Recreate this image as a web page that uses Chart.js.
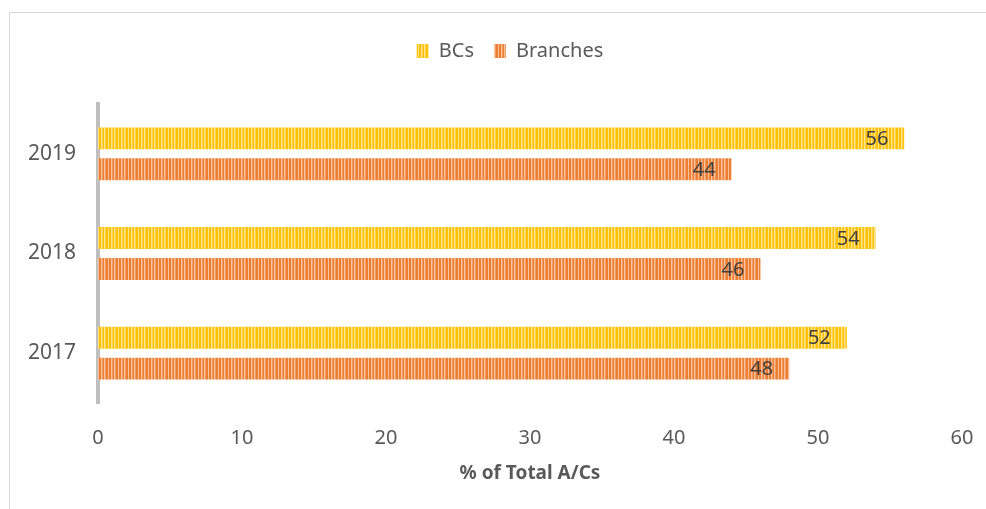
<!DOCTYPE html>
<html>
<head>
<meta charset="utf-8">
<script src="https://cdn.jsdelivr.net/npm/chart.js@4.4.1/dist/chart.umd.min.js"></script>
<style>
  html, body { margin: 0; padding: 0; background: #ffffff; }
  #wrap { width: 986px; height: 509px; position: relative; }
</style>
</head>
<body>
<div id="wrap"><canvas id="chart" width="986" height="509"></canvas></div>
<script>
// Share of total accounts by channel, per year
const years = ['2019', '2018', '2017'];
const bcShare = [56, 54, 52];
const branchShare = [44, 46, 48];
const seriesNames = ['BCs', 'Branches'];
const xTicks = [0, 10, 20, 30, 40, 50, 60];

const FONT = '"Noto Sans", "Open Sans", sans-serif';

// Vertical-stripe fill, like a light-vertical pattern
function stripes(base, light, mid) {
  const c = document.createElement('canvas');
  c.width = 10; c.height = 4;
  const g = c.getContext('2d');
  g.fillStyle = base; g.fillRect(0, 0, 10, 4);
  [[1, light], [2, mid], [4, light], [5, mid], [8, light]].forEach(([x, col]) => {
    g.fillStyle = col; g.fillRect(x, 0, 1, 4);
  });
  return g.createPattern(c, 'repeat');
}
const ctx0 = document.getElementById('chart').getContext('2d');
const yellowFill = stripes('#FFC000', '#FFE38A', '#FFD24D');
const orangeFill = stripes('#ED7D31', '#F7C29C', '#F19E66');

// Thin outer frame
const framePlugin = {
  id: 'frame',
  beforeDraw(chart) {
    const c = chart.ctx;
    c.save();
    c.strokeStyle = '#d9d9d9';
    c.lineWidth = 1;
    c.beginPath();
    c.moveTo(9.5, 509);
    c.lineTo(9.5, 12.5);
    c.lineTo(986, 12.5);
    c.stroke();
    c.restore();
  }
};

// Extra room under the legend, and the legend centred over the frame
const legendPlace = {
  id: 'legendPlace',
  beforeInit(chart) {
    const fit = chart.legend.fit;
    chart.legend.fit = function () {
      fit.call(this);
      this.height += 33;
    };
  },
  afterLayout(chart) {
    const lg = chart.legend;
    lg.left += 29;
    lg.right += 29;
  }
};

// Value labels just inside the end of each bar
const valueLabels = {
  id: 'valueLabels',
  afterDatasetsDraw(chart) {
    const c = chart.ctx;
    c.save();
    c.font = '20px ' + FONT;
    c.fillStyle = '#404040';
    c.textAlign = 'right';
    c.textBaseline = 'middle';
    chart.data.datasets.forEach((ds, i) => {
      chart.getDatasetMeta(i).data.forEach((bar, j) => {
        c.fillText(String(ds.data[j]), bar.x - 16, bar.y + 1);
      });
    });
    c.restore();
  }
};

new Chart(ctx0, {
  type: 'bar',
  data: {
    labels: years,
    datasets: [
      { label: seriesNames[0], data: bcShare, backgroundColor: yellowFill },
      { label: seriesNames[1], data: branchShare, backgroundColor: orangeFill }
    ]
  },
  options: {
    indexAxis: 'y',
    responsive: false,
    animation: false,
    devicePixelRatio: 1,
    categoryPercentage: 0.62,
    barPercentage: 0.71,
    layout: { padding: { top: 21, right: 24, bottom: 0, left: 0 } },
    plugins: {
      legend: {
        position: 'top',
        labels: {
          font: { family: FONT, size: 20 },
          color: '#595959',
          boxWidth: 12,
          boxHeight: 14,
          padding: 20
        }
      },
      tooltip: { enabled: false }
    },
    scales: {
      x: {
        min: 0,
        max: 60,
        afterBuildTicks(scale) { scale.ticks = xTicks.map(v => ({ value: v })); },
        afterFit(scale) {
          scale.height = 106;
          scale.paddingLeft = 0;
          scale.paddingRight = 0;
        },
        grid: { display: false, drawTicks: false },
        border: { display: false },
        ticks: {
          font: { family: FONT, size: 20 },
          color: '#595959',
          padding: 23
        },
        title: {
          display: true,
          text: '% of Total A/Cs',
          font: { family: FONT, size: 19, weight: 'bold' },
          color: '#595959',
          padding: { top: 0, bottom: 24 }
        }
      },
      y: {
        afterFit(scale) { scale.width = 98; },
        grid: { display: false, drawTicks: false },
        border: { display: true, color: '#bfbfbf', width: 4 },
        ticks: {
          font: { family: FONT, size: 21 },
          color: '#595959',
          padding: 22
        }
      }
    }
  },
  plugins: [framePlugin, legendPlace, valueLabels]
});
</script>
</body>
</html>
